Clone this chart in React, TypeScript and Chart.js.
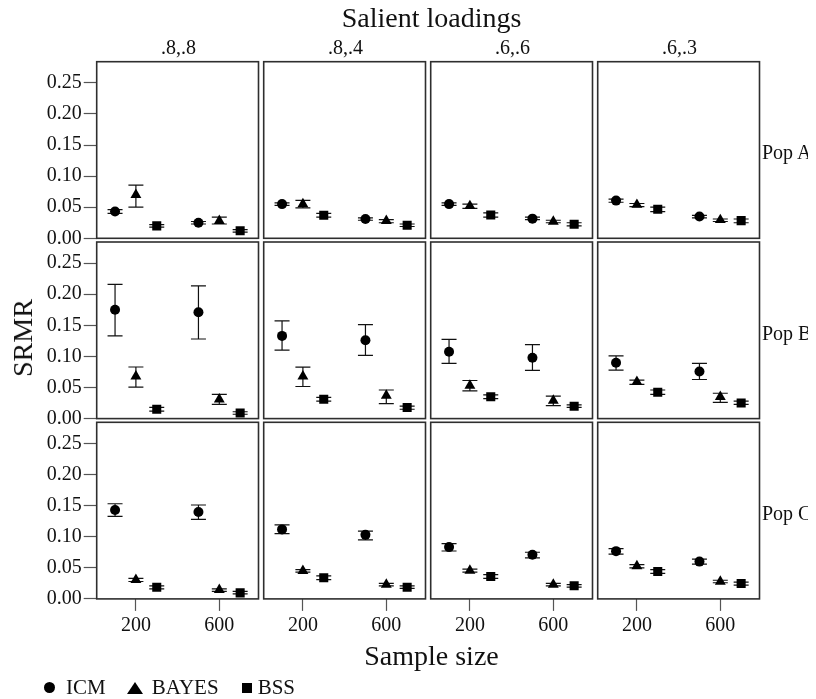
import React, { useEffect, useRef } from 'react';
import { Chart, registerables } from 'chart.js';

Chart.register(...registerables);

// ---------- data ----------
const loadings = ['.8,.8', '.8,.4', '.6,.6', '.6,.3'];
const populations = ['Pop A', 'Pop B', 'Pop C'];
const sampleSizes = ['200', '600'];
const methods = ['ICM', 'BAYES', 'BSS'];
const yTicks = [0, 0.05, 0.1, 0.15, 0.2, 0.25];
const yMax = 0.284;

// [population][loading][sampleSize]
const icmMean = [
  [[0.043, 0.025], [0.055, 0.031], [0.055, 0.0316], [0.0606, 0.035]],
  [[0.175, 0.171], [0.133, 0.126], [0.1075, 0.098], [0.0897, 0.0758]],
  [[0.143, 0.1398], [0.1118, 0.103], [0.0833, 0.071], [0.0768, 0.06]],
];
const icmLow = [
  [[0.04, 0.023], [0.053, 0.029], [0.053, 0.03], [0.058, 0.033]],
  [[0.133, 0.128], [0.11, 0.1016], [0.0887, 0.0774], [0.078, 0.0629]],
  [[0.1328, 0.128], [0.105, 0.095], [0.077, 0.066], [0.072, 0.056]],
];
const icmHigh = [
  [[0.046, 0.027], [0.057, 0.033], [0.057, 0.034], [0.063, 0.037]],
  [[0.216, 0.2134], [0.157, 0.151], [0.1274, 0.119], [0.101, 0.0887]],
  [[0.153, 0.151], [0.119, 0.109], [0.089, 0.075], [0.081, 0.064]],
];

const bayesMean = [
  [[0.07, 0.028], [0.055, 0.028], [0.052, 0.027], [0.054, 0.0295]],
  [[0.068, 0.031], [0.068, 0.037], [0.053, 0.029], [0.059, 0.0349]],
  [[0.0306, 0.0145], [0.045, 0.023], [0.0457, 0.023], [0.0527, 0.028]],
];
const bayesLow = [
  [[0.05, 0.023], [0.049, 0.025], [0.048, 0.025], [0.051, 0.027]],
  [[0.0505, 0.023], [0.0516, 0.024], [0.0445, 0.021], [0.055, 0.026]],
  [[0.028, 0.012], [0.043, 0.021], [0.043, 0.021], [0.05, 0.026]],
];
const bayesHigh = [
  [[0.0855, 0.034], [0.061, 0.03], [0.055, 0.029], [0.056, 0.031]],
  [[0.083, 0.039], [0.0828, 0.046], [0.0613, 0.036], [0.062, 0.0408]],
  [[0.033, 0.016], [0.047, 0.025], [0.048, 0.025], [0.055, 0.03]],
];

const bssMean = [
  [[0.02, 0.012], [0.037, 0.021], [0.0376, 0.0226], [0.0468, 0.0284]],
  [[0.015, 0.009], [0.031, 0.018], [0.035, 0.02], [0.0424, 0.0252]],
  [[0.0188, 0.0097], [0.034, 0.0188], [0.036, 0.021], [0.044, 0.0247]],
];
const bssLow = [
  [[0.018, 0.01], [0.034, 0.019], [0.034, 0.02], [0.043, 0.025]],
  [[0.012, 0.007], [0.028, 0.015], [0.032, 0.018], [0.039, 0.023]],
  [[0.016, 0.008], [0.031, 0.017], [0.033, 0.019], [0.041, 0.022]],
];
const bssHigh = [
  [[0.022, 0.014], [0.04, 0.023], [0.041, 0.025], [0.05, 0.031]],
  [[0.018, 0.011], [0.034, 0.02], [0.038, 0.022], [0.046, 0.028]],
  [[0.021, 0.012], [0.037, 0.021], [0.039, 0.023], [0.047, 0.027]],
];

const seriesMeans = [icmMean, bayesMean, bssMean];
const seriesLows = [icmLow, bayesLow, bssLow];
const seriesHighs = [icmHigh, bayesHigh, bssHigh];

// ---------- style / layout ----------
const FONT = "'Liberation Serif', 'Times New Roman', serif";
const W = 800;
const H = 683;
const PX0 = 88.7;
const PDX = 167;
const PW = 161.8;
const PY0 = 53.7;
const PDY = 180.3;
const PH = 176.6;
const Y_AXIS_W = 60;
const X_AXIS_H = 45;
const pointStyles = ['circle', 'triangle', 'rect'];
const pointRadii = [5, 6.3, 6.4];

const errorBarPlugin = {
  id: 'errorBars',
  beforeDatasetsDraw(chart: any) {
    const ctx = chart.ctx;
    const ys = chart.scales.y;
    ctx.save();
    ctx.strokeStyle = '#111';
    ctx.lineWidth = 1.2;
    chart.data.datasets.forEach((ds: any, i: number) => {
      const meta = chart.getDatasetMeta(i);
      meta.data.forEach((pt: any, j: number) => {
        const x = pt.x;
        const yl = ys.getPixelForValue(ds.errLow[j]);
        const yh = ys.getPixelForValue(ds.errHigh[j]);
        const cw = 7.5;
        ctx.beginPath();
        ctx.moveTo(x, yl);
        ctx.lineTo(x, yh);
        ctx.moveTo(x - cw, yl);
        ctx.lineTo(x + cw, yl);
        ctx.moveTo(x - cw, yh);
        ctx.lineTo(x + cw, yh);
        ctx.stroke();
      });
    });
    ctx.restore();
  },
};

const framePlugin = {
  id: 'frame',
  afterDraw(chart: any) {
    const { left, top, width, height } = chart.chartArea;
    const ctx = chart.ctx;
    ctx.save();
    ctx.strokeStyle = '#2e2e2e';
    ctx.lineWidth = 1.6;
    ctx.strokeRect(left, top, width, height);
    ctx.restore();
  },
};

function Panel({ r, c }: { r: number; c: number }) {
  const ref = useRef<HTMLCanvasElement>(null);
  useEffect(() => {
    if (!ref.current) return;
    const panelLeft = PX0 + c * PDX;
    const panelTop = PY0 + r * PDY;
    const showY = c === 0;
    const showX = r === populations.length - 1;
    const datasets = methods.map((m, mi) => ({
      label: m,
      data: sampleSizes.map((_, g) => ({ x: 1 + g * 4 + mi, y: seriesMeans[mi][r][c][g] })),
      errLow: seriesLows[mi][r][c],
      errHigh: seriesHighs[mi][r][c],
      pointStyle: pointStyles[mi],
      pointRadius: pointRadii[mi],
      backgroundColor: '#000',
      borderColor: '#000',
      borderWidth: 0,
      showLine: false,
    }));
    const chart = new Chart(ref.current, {
      type: 'scatter',
      data: { datasets } as any,
      plugins: [errorBarPlugin, framePlugin],
      options: {
        animation: false,
        responsive: false,
        devicePixelRatio: 1,
        events: [],
        layout: {
          padding: {
            left: panelLeft - (showY ? Y_AXIS_W : 0),
            top: panelTop,
            right: W - panelLeft - PW,
            bottom: H - panelTop - PH - (showX ? X_AXIS_H : 0),
          },
        },
        plugins: { legend: { display: false }, tooltip: { enabled: false } },
        scales: {
          x: {
            type: 'linear',
            display: showX,
            min: 0.12,
            max: 7.88,
            afterBuildTicks: (s: any) => {
              s.ticks = sampleSizes.map((_, g) => ({ value: 2 + g * 4 }));
            },
            afterFit: (s: any) => {
              s.height = showX ? X_AXIS_H : 0;
              s.paddingLeft = 0;
              s.paddingRight = 0;
            },
            ticks: {
              font: { family: FONT, size: 20 },
              color: '#111',
              padding: 3,
              maxRotation: 0,
              autoSkip: false,
              callback: (_v: any, i: number) => sampleSizes[i],
            },
            grid: {
              drawOnChartArea: false,
              drawTicks: true,
              tickLength: 12,
              tickColor: '#555',
              tickWidth: 1.2,
            },
            border: { display: false },
          },
          y: {
            type: 'linear',
            display: showY,
            min: 0,
            max: yMax,
            afterBuildTicks: (s: any) => {
              s.ticks = yTicks.map((v) => ({ value: v }));
            },
            afterFit: (s: any) => {
              s.width = showY ? Y_AXIS_W : 0;
              s.paddingTop = 0;
              s.paddingBottom = 0;
            },
            ticks: {
              font: { family: FONT, size: 20 },
              color: '#111',
              padding: 2,
              autoSkip: false,
              callback: (v: any) => Number(v).toFixed(2),
            },
            grid: {
              drawOnChartArea: false,
              drawTicks: true,
              tickLength: 13,
              tickColor: '#555',
              tickWidth: 1.2,
            },
            border: { display: false },
          },
        },
      } as any,
    });
    return () => chart.destroy();
  }, [r, c]);
  return (
    <canvas
      ref={ref}
      width={W}
      height={H}
      style={{ position: 'absolute', left: 0, top: 0, width: W, height: H }}
    />
  );
}

function Txt({
  x,
  base,
  size,
  align = 'center',
  children,
}: {
  x: number;
  base: number;
  size: number;
  align?: 'center' | 'left';
  children: React.ReactNode;
}) {
  return (
    <div
      style={{
        position: 'absolute',
        left: x,
        top: base - 0.8375 * size,
        fontFamily: FONT,
        fontSize: size,
        lineHeight: `${size}px`,
        whiteSpace: 'nowrap',
        color: '#111',
        transform: align === 'center' ? 'translateX(-50%)' : undefined,
      }}
    >
      {children}
    </div>
  );
}

export default function App() {
  const panels: React.ReactNode[] = [];
  populations.forEach((_, r) =>
    loadings.forEach((__, c) => panels.push(<Panel key={`${r}-${c}`} r={r} c={c} />))
  );
  return (
    <div style={{ position: 'relative', width: W, height: H + 8 }}>
      {panels}
      <Txt x={423.5} base={19.3} size={28}>
        Salient loadings
      </Txt>
      {loadings.map((l, c) => (
        <Txt key={l} x={PX0 + c * PDX + PW / 2 + 1} base={45.3} size={20}>
          {l}
        </Txt>
      ))}
      {populations.map((p, r) => (
        <Txt key={p} x={754} base={151 + r * PDY} size={20} align="left">
          {p}
        </Txt>
      ))}
      <div
        style={{
          position: 'absolute',
          left: 15,
          top: 330,
          fontFamily: FONT,
          fontSize: 28,
          lineHeight: '28px',
          whiteSpace: 'nowrap',
          color: '#111',
          transform: 'translate(-50%, -50%) rotate(-90deg)',
        }}
      >
        SRMR
      </div>
      <Txt x={423.5} base={657.7} size={28}>
        Sample size
      </Txt>
      {/* legend */}
      <div
        style={{
          position: 'absolute',
          left: 36,
          top: 674.3,
          width: 11,
          height: 11,
          borderRadius: '50%',
          background: '#000',
        }}
      />
      <Txt x={58} base={686.3} size={21} align="left">
        {methods[0]}
      </Txt>
      <div
        style={{
          position: 'absolute',
          left: 118.7,
          top: 674.3,
          width: 0,
          height: 0,
          borderLeft: '8.3px solid transparent',
          borderRight: '8.3px solid transparent',
          borderBottom: '12.7px solid #000',
        }}
      />
      <Txt x={143.7} base={686.3} size={21} align="left">
        {methods[1]}
      </Txt>
      <div
        style={{
          position: 'absolute',
          left: 233.7,
          top: 675.3,
          width: 10,
          height: 10,
          background: '#000',
        }}
      />
      <Txt x={249.7} base={686.3} size={21} align="left">
        {methods[2]}
      </Txt>
    </div>
  );
}
